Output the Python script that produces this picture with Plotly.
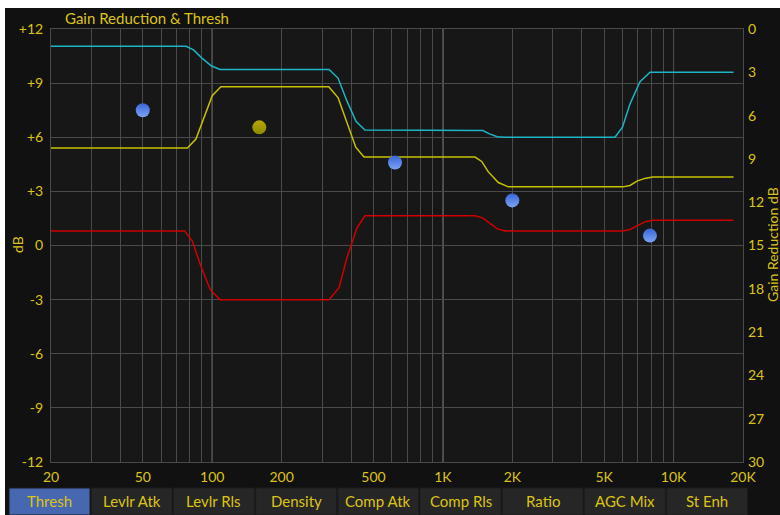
import plotly.graph_objects as go

# ---- data -------------------------------------------------------------
# Gain reduction curve (right axis, dB of reduction)
gr_freq = [20, 77, 83, 90, 99, 108, 321, 351, 384, 420, 459, 1392, 1490, 1584, 1720, 1858,
           5572, 6005, 6472, 7153, 7906, 18200]
gr_db = [1.2, 1.2, 1.45, 2.0, 2.55, 2.8, 2.8, 3.4, 5.0, 6.4, 7.0, 7.0, 7.04, 7.25, 7.46, 7.5,
         7.5, 6.8, 5.2, 3.65, 3.0, 3.0]

# Threshold curve (left axis, dB)
thresh_freq = [20, 78, 85, 92, 100, 109, 320, 351, 386, 419, 455, 1378, 1473, 1574, 1739, 1922,
               6036, 6472, 6940, 7507, 8120, 18200]
thresh_db = [5.4, 5.4, 5.9, 7.1, 8.3, 8.8, 8.8, 8.2, 6.7, 5.45, 4.9, 4.9, 4.66, 4.08, 3.49, 3.25,
             3.25, 3.33, 3.57, 3.72, 3.8, 3.8]

# Output level curve (left axis, dB)
level_freq = [20, 76, 82, 89, 98, 108, 321, 355, 384, 424, 459, 1378, 1485, 1600, 1724, 1858,
              6036, 6472, 6940, 7507, 8120, 18200]
level_db = [0.8, 0.8, 0.25, -1.1, -2.45, -3.0, -3.0, -2.32, -0.67, 0.97, 1.65, 1.65, 1.53, 1.22, 0.92, 0.8,
            0.8, 0.89, 1.1, 1.31, 1.4, 1.4]

# Band threshold handles
band_freq = [50, 160, 620, 2000, 7900]
band_db = [7.5, 6.55, 4.6, 2.5, 0.55]
band_selected = [False, True, False, False, False]

# Axis ticks
x_grid = [20, 30, 40, 50, 60, 70, 80, 90, 100, 200, 300, 400, 500, 600, 700, 800, 900,
          1000, 2000, 3000, 4000, 5000, 6000, 7000, 8000, 9000, 10000, 20000]
x_labels = {20: "20", 50: "50", 100: "100", 200: "200", 500: "500", 1000: "1K",
            2000: "2K", 5000: "5K", 10000: "10K", 20000: "20K"}
decades = [100, 1000, 10000]
y_left_ticks = [-12, -9, -6, -3, 0, 3, 6, 9, 12]
y_right_ticks = [0, 3, 6, 9, 12, 15, 18, 21, 24, 27, 30]

tabs = ["Thresh", "Levlr Atk", "Levlr Rls", "Density", "Comp Atk", "Comp Rls",
        "Ratio", "AGC Mix", "St Enh"]
active_tab = "Thresh"

# ---- styling ----------------------------------------------------------
W, H = 780, 515
L, R, T, B = 51, 37, 29, 53
PW, PH = W - L - R, H - T - B
TXT = "#dcc414"
GRID = "#4a4a4a"
FONT = "Lato"


def px(x):
    return (x - L) / PW


def py(y):
    return (H - B - y) / PH


fig = go.Figure()

fig.add_trace(go.Scatter(x=thresh_freq, y=thresh_db, mode="lines",
                         line=dict(color="#c9c200", width=1.5), hoverinfo="skip"))
fig.add_trace(go.Scatter(x=level_freq, y=level_db, mode="lines",
                         line=dict(color="#d00000", width=1.5), hoverinfo="skip"))
fig.add_trace(go.Scatter(x=gr_freq, y=gr_db, mode="lines", yaxis="y2",
                         line=dict(color="#1cb6c6", width=1.5), hoverinfo="skip"))

fig.add_trace(go.Scatter(
    x=band_freq, y=band_db, mode="markers", hoverinfo="skip",
    marker=dict(size=14,
                color=["#b8a800" if s else "#3a64d8" for s in band_selected],
                gradient=dict(type="vertical",
                              color=["#8c8a00" if s else "#7ba4f2" for s in band_selected]),
                line=dict(width=0)),
))

shapes = []
# white page margin at top / left
shapes.append(dict(type="rect", xref="paper", yref="paper", x0=px(0), x1=px(W), y0=py(8), y1=py(0),
                   fillcolor="white", line_width=0, layer="below"))
shapes.append(dict(type="rect", xref="paper", yref="paper", x0=px(0), x1=px(5), y0=py(H), y1=py(0),
                   fillcolor="white", line_width=0, layer="below"))
# bright decade lines
for d in decades:
    shapes.append(dict(type="line", xref="x", yref="paper", x0=d, x1=d, y0=0, y1=1,
                       line=dict(color="#a8a8a8", width=1), layer="between"))
# tab bar
tab_x0, tab_pitch, tab_w = 9, 82.2, 81
tab_top, tab_bot = 488, 515
annotations = []
for i, name in enumerate(tabs):
    x0 = tab_x0 + i * tab_pitch
    x1 = x0 + tab_w
    shapes.append(dict(type="rect", xref="paper", yref="paper", x0=px(x0), x1=px(x1),
                       y0=py(tab_bot), y1=py(tab_top),
                       fillcolor="#4767b0" if name == active_tab else "#262626",
                       line=dict(color="#1c1c1c", width=1), layer="below"))
    annotations.append(dict(text=name, xref="paper", yref="paper", x=px((x0 + x1) / 2), y=py(501),
                            showarrow=False, xanchor="center", yanchor="middle",
                            font=dict(family=FONT, size=15, color=TXT)))

annotations.append(dict(text="Gain Reduction & Thresh", xref="paper", yref="paper",
                        x=px(63), y=py(18), xanchor="left", yanchor="middle", showarrow=False,
                        font=dict(family=FONT, size=15, color=TXT)))
annotations.append(dict(text="dB", xref="paper", yref="paper", x=px(18), y=py(245),
                        xanchor="center", yanchor="middle", textangle=-90, showarrow=False,
                        font=dict(family=FONT, size=14, color=TXT)))
annotations.append(dict(text="Gain Reduction dB", xref="paper", yref="paper", x=px(773), y=py(245),
                        xanchor="center", yanchor="middle", textangle=-90, showarrow=False,
                        font=dict(family=FONT, size=14, color=TXT)))

fig.update_layout(
    width=W, height=H, margin=dict(l=L, r=R, t=T, b=B, pad=0),
    paper_bgcolor="#111111", plot_bgcolor="#171717",
    showlegend=False, shapes=shapes, annotations=annotations,
    font=dict(family=FONT, size=14, color=TXT),
    xaxis=dict(type="log", range=[1.30103, 4.30103], tickmode="array", tickvals=x_grid,
               ticktext=[x_labels.get(v, "") for v in x_grid], showgrid=True, gridcolor=GRID,
               gridwidth=1, showline=True, linecolor=GRID, mirror=True, zeroline=False,
               ticks="", ticklabelstandoff=2,
               tickfont=dict(family=FONT, size=14, color=TXT), fixedrange=True),
    yaxis=dict(range=[-12, 12], tickmode="array", tickvals=y_left_ticks,
               ticktext=[("+%d" % v if v > 0 else "%d" % v) for v in y_left_ticks],
               showgrid=True, gridcolor=GRID, gridwidth=1, zeroline=False, showline=True,
               linecolor=GRID, mirror=True, ticks="", ticklabelstandoff=4,
               tickfont=dict(family=FONT, size=14, color=TXT), fixedrange=True),
    yaxis2=dict(range=[30, 0], overlaying="y", side="right", tickmode="array",
                tickvals=y_right_ticks, showgrid=False, zeroline=False, showline=False,
                ticks="", ticklabelstandoff=4,
                tickfont=dict(family=FONT, size=14, color=TXT), fixedrange=True),
)

fig.write_html("out.html", config={"displayModeBar": False})
